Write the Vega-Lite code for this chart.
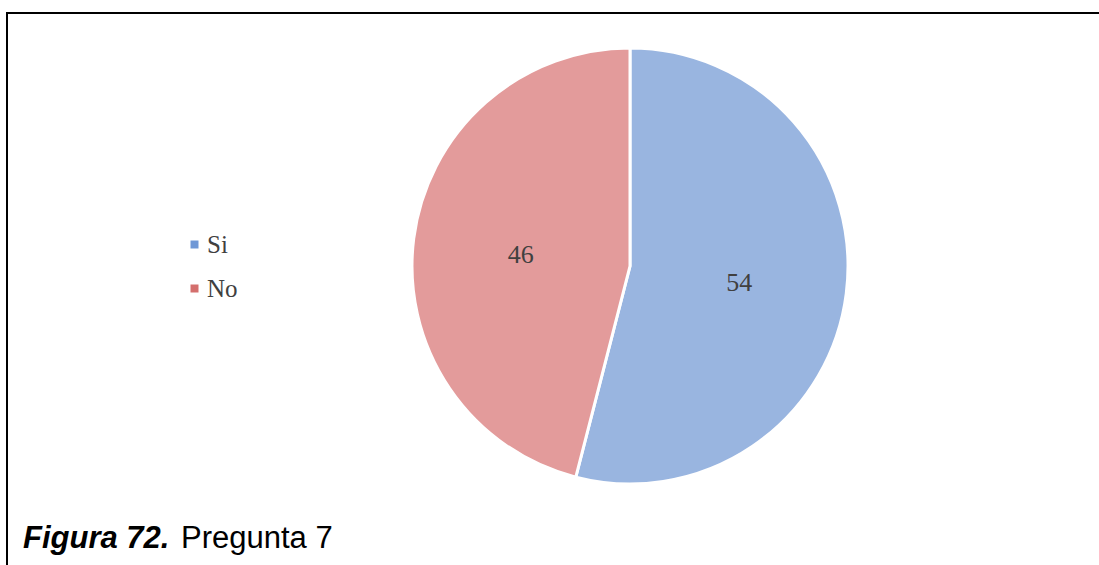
{
  "$schema": "https://vega.github.io/schema/vega-lite/v6.json",
  "width": 1092,
  "height": 552,
  "autosize": {"type": "none"},
  "padding": {"left": 7, "top": 13, "right": 0, "bottom": 0},
  "background": "white",
  "config": {
    "view": {"stroke": "#000000", "strokeWidth": 2, "strokeDash": [1092, 1644, 552, 10]}
  },
  "data": {
    "values": [
      {"answer": "Si", "value": 54, "ord": 1},
      {"answer": "No", "value": 46, "ord": 2}
    ]
  },
  "layer": [
    {
      "mark": {"type": "arc", "outerRadius": 218, "xOffset": 77, "yOffset": -23, "stroke": "white", "strokeWidth": 3},
      "encoding": {
        "theta": {"field": "value", "type": "quantitative", "stack": true},
        "order": {"field": "ord", "type": "quantitative"},
        "color": {
          "field": "answer",
          "type": "nominal",
          "scale": {"domain": ["Si", "No"], "range": ["#6f98d6", "#d46f6d"]},
          "legend": {
            "orient": "none",
            "legendX": 175,
            "legendY": 219,
            "title": null,
            "symbolType": "square",
            "symbolSize": 64,
            "symbolStrokeWidth": 0,
            "labelFont": "Liberation Serif",
            "labelFontSize": 25,
            "labelColor": "#404040",
            "labelOffset": 0,
            "rowPadding": 18,
            "padding": 0
          }
        }
      }
    },
    {
      "mark": {"type": "arc", "outerRadius": 218, "xOffset": 77, "yOffset": -23, "stroke": "white", "strokeWidth": 3},
      "encoding": {
        "theta": {"field": "value", "type": "quantitative", "stack": true},
        "order": {"field": "ord", "type": "quantitative"},
        "fill": {"condition": {"test": "datum.answer === 'Si'", "value": "#99b5e0"}, "value": "#e39b9b"}
      }
    },
    {
      "mark": {"type": "text", "radius": 110, "xOffset": 77, "yOffset": -20, "font": "Liberation Serif", "fontSize": 26, "fill": "#404040"},
      "encoding": {
        "theta": {"field": "value", "type": "quantitative", "stack": true},
        "order": {"field": "ord", "type": "quantitative"},
        "text": {"field": "value", "type": "quantitative"}
      }
    },
    {
      "data": {"values": [{"t": "Figura 72."}]},
      "mark": {"type": "text", "align": "left", "baseline": "alphabetic", "font": "Liberation Sans", "fontSize": 31, "fontWeight": "bold", "fontStyle": "italic", "fill": "#000000", "xOffset": 16, "yOffset": -17},
      "encoding": {
        "text": {"field": "t", "type": "nominal"},
        "x": {"datum": 0, "type": "quantitative", "scale": {"domain": [0, 1]}, "axis": null},
        "y": {"datum": 0, "type": "quantitative", "scale": {"domain": [0, 1]}, "axis": null}
      }
    },
    {
      "data": {"values": [{"t": "Pregunta 7"}]},
      "mark": {"type": "text", "align": "left", "baseline": "alphabetic", "font": "Liberation Sans", "fontSize": 31, "fill": "#000000", "xOffset": 174, "yOffset": -17},
      "encoding": {
        "text": {"field": "t", "type": "nominal"},
        "x": {"datum": 0, "type": "quantitative", "scale": {"domain": [0, 1]}, "axis": null},
        "y": {"datum": 0, "type": "quantitative", "scale": {"domain": [0, 1]}, "axis": null}
      }
    }
  ]
}
